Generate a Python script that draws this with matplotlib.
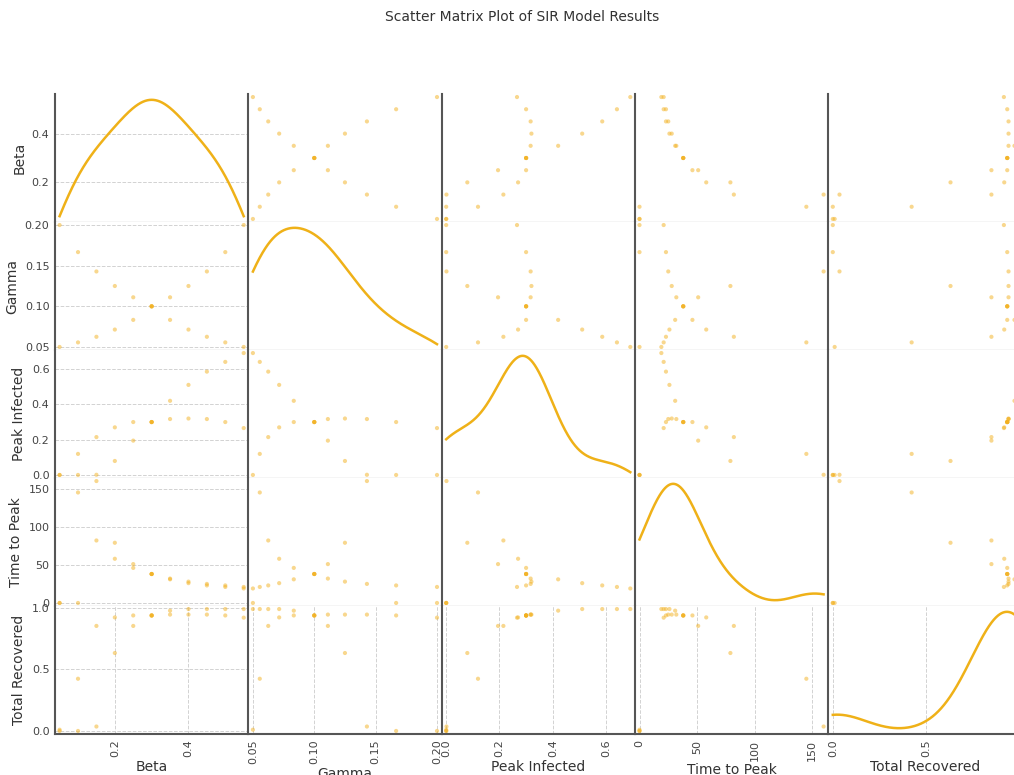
import numpy as np
import pandas as pd
import matplotlib
matplotlib.use('Agg')
import matplotlib.pyplot as plt
from matplotlib.ticker import MultipleLocator

# Valeurs (24 simulations, le point beta=0.3 / gamma=0.1 se répète)
beta = [0.05, 0.05, 0.10, 0.10, 0.15, 0.15, 0.20, 0.20, 0.25, 0.25, 0.30, 0.30,
        0.30, 0.30, 0.35, 0.35, 0.40, 0.40, 0.45, 0.45, 0.50, 0.50, 0.55, 0.55]
gamma = [0.05, 0.20, 0.0556, 0.1667, 0.0625, 0.1429, 0.0714, 0.125, 0.0833, 0.1111, 0.10, 0.10,
         0.10, 0.10, 0.0833, 0.1111, 0.0714, 0.125, 0.0625, 0.1429, 0.0556, 0.1667, 0.05, 0.20]
peak_infected = [0.001, 0.001, 0.12, 0.001, 0.215, 0.002, 0.27, 0.08, 0.30, 0.195, 0.30, 0.30,
                 0.30, 0.30, 0.42, 0.317, 0.51, 0.32, 0.585, 0.317, 0.64, 0.30, 0.69, 0.266]
time_to_peak = [0, 0, 145, 0, 82, 160, 58, 79, 46, 51, 38, 38,
                38, 38, 31, 32, 26, 28, 23, 25, 21, 23, 19, 21]
total_recovered = [0.01, 0.0, 0.424, 0.0, 0.853, 0.036, 0.922, 0.633, 0.938, 0.853, 0.938, 0.938,
                   0.938, 0.938, 0.977, 0.945, 0.99, 0.945, 0.99, 0.945, 0.99, 0.938, 0.99, 0.92]

df = pd.DataFrame({
    'Beta': beta,
    'Gamma': gamma,
    'Peak Infected': peak_infected,
    'Time to Peak': time_to_peak,
    'Total Recovered': total_recovered,
})

point_color = '#f2b01e'
line_color = '#efb118'
spine_dark = '#555555'
spine_light = '#b5b5b5'


def kde(values, grid):
    # noyau gaussien, largeur de bande de Scott (comme gaussian_kde)
    values = np.asarray(values, dtype=float)
    bw = values.std(ddof=1) * len(values) ** (-1 / 5)
    z = (grid[:, None] - values[None, :]) / bw
    return np.exp(-0.5 * z ** 2).sum(axis=1) / (len(values) * bw * np.sqrt(2 * np.pi))


fig = plt.figure(figsize=(10.14, 7.75), dpi=100)
cols = list(df.columns)
n = len(cols)
left, bottom = 55 / 1014, 41 / 775
w, h = 193.3 / 1014, 128 / 775

lims = {}
for c in cols:
    lo, hi = df[c].min(), df[c].max()
    pad = (hi - lo) * 0.05 / 2
    lims[c] = (lo - pad, hi + pad)

axes = [[None] * n for _ in range(n)]
for i, yc in enumerate(cols):
    for j, xc in enumerate(cols):
        ax = fig.add_axes([left + j * w, bottom + (n - 1 - i) * h, w, h])
        axes[i][j] = ax
        ax.set_axisbelow(True)
        ax.grid(True, linestyle='--', color='#d2d2d2', linewidth=0.7)

        if i == j:
            grid = np.linspace(df[xc].min(), df[xc].max(), 1000)
            ax.plot(grid, kde(df[xc], grid), color=line_color, linewidth=1.8)
            ax.set_xlim(lims[xc])
        else:
            ax.scatter(df[xc], df[yc], s=9, color=point_color, alpha=0.5,
                       edgecolors='none')
            ax.set_xlim(lims[xc])
            ax.set_ylim(lims[yc])
            if yc == 'Total Recovered':
                ax.yaxis.set_major_locator(MultipleLocator(0.5))
        if xc == 'Total Recovered':
            ax.xaxis.set_major_locator(MultipleLocator(0.5))

        ax.spines['top'].set_visible(False)
        ax.spines['right'].set_visible(False)
        ax.spines['left'].set_color(spine_dark)
        ax.spines['left'].set_linewidth(1.5)
        if i == n - 1:
            ax.spines['bottom'].set_color(spine_dark)
            ax.spines['bottom'].set_linewidth(1.5)
        else:
            ax.spines['bottom'].set_color(spine_light)
            ax.spines['bottom'].set_linewidth(0.9)

        ax.tick_params(length=0, labelsize=8, labelcolor='#444444', pad=4)
        for lab in ax.get_xticklabels():
            lab.set_rotation(90)

        if i == n - 1:
            ax.set_xlabel(xc, fontsize=10, color='#333333', labelpad=2)
        else:
            ax.xaxis.set_visible(False)
        if j == 0:
            ax.set_ylabel(yc, fontsize=10, color='#333333')
        else:
            ax.yaxis.set_visible(False)

# graduations de la première densité alignées sur l'échelle de Beta
lo, hi = lims['Beta']
locs = axes[0][1].yaxis.get_majorticklocs()
locs = locs[(locs >= lo) & (locs <= hi)]
y0, y1 = axes[0][0].get_ylim()
axes[0][0].set_yticks(y0 + (locs - lo) / (hi - lo) * (y1 - y0))
axes[0][0].set_yticklabels([f'{v:.1f}' for v in locs])

fig.suptitle('Scatter Matrix Plot of SIR Model Results', x=522 / 1014, y=1 - 17 / 775,
             fontsize=10, va='center', color='#333333')

fig.savefig('out.png', dpi=100, facecolor='white')
